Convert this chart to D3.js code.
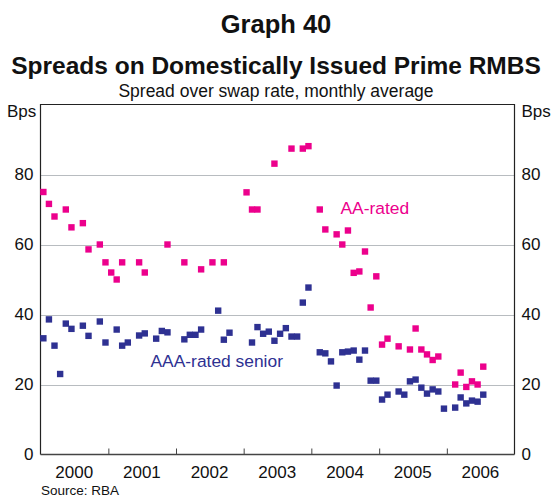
<!DOCTYPE html>
<html>
<head>
<meta charset="utf-8">
<script src="https://cdn.jsdelivr.net/npm/d3@7"></script>
<style>
  html, body { margin: 0; padding: 0; background: #fff; }
  svg { display: block; font-family: Arial, "Liberation Sans", Helvetica, sans-serif; }
</style>
</head>
<body>
<svg id="chart" width="552" height="497"></svg>
<script>
// Monthly average spread over swap rate, basis points
const aaMonths = ["2000-01","2000-02","2000-03","2000-05","2000-06","2000-08","2000-09","2000-11","2000-12",
  "2001-01","2001-02","2001-03","2001-06","2001-07","2001-11",
  "2002-02","2002-05","2002-07","2002-09",
  "2003-01","2003-02","2003-03","2003-06","2003-09","2003-11","2003-12",
  "2004-02","2004-03","2004-05","2004-06","2004-07","2004-08","2004-09","2004-10","2004-11","2004-12",
  "2005-01","2005-02","2005-04","2005-06","2005-07","2005-08","2005-09","2005-10","2005-11",
  "2006-02","2006-03","2006-04","2006-05","2006-06","2006-07"];
const aaValues = [75, 71.6, 68, 70, 64.9, 66.1, 58.6, 60, 54.9,
  52, 50, 54.9, 54.9, 52, 60,
  54.9, 52.9, 54.9, 54.9,
  74.9, 70, 70, 83.1, 87.4, 87.4, 88.1,
  70, 64.3, 62.9, 60, 64, 51.9, 52.3, 58, 42, 50.9,
  31.4, 33.1, 30.9, 30, 36, 30, 28.6, 27, 28,
  20, 23.4, 19.3, 20.9, 20, 25.1];

const aaaMonths = ["2000-01","2000-02","2000-03","2000-04","2000-05","2000-06","2000-08","2000-09","2000-11","2000-12",
  "2001-02","2001-03","2001-04","2001-06","2001-07","2001-09","2001-10","2001-11",
  "2002-02","2002-03","2002-04","2002-05","2002-08","2002-09","2002-10",
  "2003-02","2003-03","2003-04","2003-05","2003-06","2003-07","2003-08","2003-09","2003-10","2003-11","2003-12",
  "2004-02","2004-03","2004-04","2004-05","2004-06","2004-07","2004-08","2004-09","2004-10","2004-11","2004-12",
  "2005-01","2005-02","2005-04","2005-05","2005-06","2005-07","2005-08","2005-09","2005-10","2005-11","2005-12",
  "2006-02","2006-03","2006-04","2006-05","2006-06","2006-07"];
const aaaValues = [33.2, 38.6, 31.1, 23, 37.4, 35.9, 36.8, 33.9, 38, 32,
  35.7, 31.1, 32, 34, 34.6, 33.1, 35.3, 34.9,
  32.9, 34.2, 34.2, 35.7, 41.1, 32.8, 34.8,
  32, 36.4, 34.5, 35.1, 32.5, 34.5, 36.1, 33.7, 33.7, 43.4, 47.7,
  29.2, 28.9, 26.6, 19.7, 29.2, 29.4, 29.7, 27.1, 29.7, 21.1, 21.1,
  15.7, 17.1, 18, 17.1, 20.9, 21.4, 19.1, 17.4, 18.6, 18, 13.1,
  13.4, 16.3, 14.6, 15.4, 15.1, 17.1];

const years = [2000, 2001, 2002, 2003, 2004, 2005, 2006];
const yTicks = [0, 20, 40, 60, 80];

const AA_COLOR = "#ec008c";
const AAA_COLOR = "#2e3192";

const svg = d3.select("#chart");
const W = 552;
const plotLeft = 40.5, plotRight = 514.5, plotTop = 104.5, plotBottom = 454.5;

const parseMonth = d3.timeParse("%Y-%m");
const midMonth = s => {
  const d = parseMonth(s);
  return new Date((d.getTime() + d3.timeMonth.offset(d, 1).getTime()) / 2);
};

const x = d3.scaleTime()
  .domain([new Date(2000, 0, 1), new Date(2007, 0, 1)])
  .range([plotLeft, plotRight]);
const y = d3.scaleLinear().domain([0, 100]).range([plotBottom, plotTop]);

// Titles
svg.append("text").attr("x", W / 2).attr("y", 33).attr("text-anchor", "middle")
  .attr("font-size", 25.5).attr("font-weight", "bold").attr("fill", "#111").text("Graph 40");
svg.append("text").attr("x", W / 2).attr("y", 74).attr("text-anchor", "middle")
  .attr("font-size", 24.5).attr("font-weight", "bold").attr("fill", "#111")
  .text("Spreads on Domestically Issued Prime RMBS");
svg.append("text").attr("x", W / 2).attr("y", 97).attr("text-anchor", "middle")
  .attr("font-size", 17.5).attr("fill", "#111")
  .text("Spread over swap rate, monthly average");

// Horizontal gridlines
svg.append("g").selectAll("line")
  .data(yTicks.filter(v => v > 0))
  .join("line")
  .attr("x1", plotLeft).attr("x2", plotRight)
  .attr("y1", d => Math.round(y(d)) + 0.5).attr("y2", d => Math.round(y(d)) + 0.5)
  .attr("stroke", "#b8bcc0").attr("stroke-width", 1.2);

// Left and right value axes (labels only)
const yAxisL = d3.axisLeft(y).tickValues(yTicks).tickSize(0).tickPadding(7);
const yAxisR = d3.axisRight(y).tickValues(yTicks).tickSize(0).tickPadding(7);
const gL = svg.append("g").attr("transform", `translate(${plotLeft},0)`).call(yAxisL);
const gR = svg.append("g").attr("transform", `translate(${plotRight},0)`).call(yAxisR);
[gL, gR].forEach(g => {
  g.select(".domain").remove();
  g.selectAll("text").attr("font-size", 17).attr("fill", "#111")
    .attr("font-family", "Arial, 'Liberation Sans', sans-serif");
});

svg.append("text").attr("x", 7).attr("y", 116.5).attr("font-size", 17).attr("fill", "#111").text("Bps");
svg.append("text").attr("x", 521.5).attr("y", 116.5).attr("font-size", 17).attr("fill", "#111").text("Bps");

// Year ticks on the bottom axis, pointing into the plot
const yearStarts = years.slice(1).map(yr => new Date(yr, 0, 1));
const xAxis = d3.axisBottom(x).tickValues(yearStarts).tickSize(-6).tickFormat("");
const gX = svg.append("g").attr("transform", `translate(0,${plotBottom})`).call(xAxis);
gX.select(".domain").remove();
gX.selectAll(".tick line").attr("stroke", "#444").attr("stroke-width", 1);

// Year labels centred within each year
svg.append("g").selectAll("text")
  .data(years)
  .join("text")
  .attr("x", d => x(new Date(d, 6, 1)))
  .attr("y", 478)
  .attr("text-anchor", "middle")
  .attr("font-size", 17).attr("fill", "#111")
  .text(d => d);

// Plot frame
svg.append("path")
  .attr("d", `M${plotLeft},${plotBottom}V${plotTop}H${plotRight}V${plotBottom}`)
  .attr("fill", "none").attr("stroke", "#222").attr("stroke-width", 1.2);
svg.append("line")
  .attr("x1", plotLeft).attr("x2", plotRight).attr("y1", plotBottom).attr("y2", plotBottom)
  .attr("stroke", "#444").attr("stroke-width", 1.6);

// Series markers
const S = 6.4;
function drawSeries(months, values, color) {
  const pts = months.map((m, i) => ({ date: midMonth(m), value: values[i] }));
  svg.append("g").selectAll("rect")
    .data(pts)
    .join("rect")
    .attr("x", d => x(d.date) - S / 2)
    .attr("y", d => y(d.value) - S / 2)
    .attr("width", S).attr("height", S)
    .attr("fill", color);
}
drawSeries(aaaMonths, aaaValues, AAA_COLOR);
drawSeries(aaMonths, aaValues, AA_COLOR);

// Series labels
svg.append("text").attr("x", 340.5).attr("y", 214).attr("font-size", 17.4)
  .attr("fill", AA_COLOR).text("AA-rated");
svg.append("text").attr("x", 150.5).attr("y", 367).attr("font-size", 17.4)
  .attr("fill", AAA_COLOR).text("AAA-rated senior");

// Source note
svg.append("text").attr("x", 41).attr("y", 494.5).attr("font-size", 13.5)
  .attr("fill", "#111").text("Source: RBA");
</script>
</body>
</html>
